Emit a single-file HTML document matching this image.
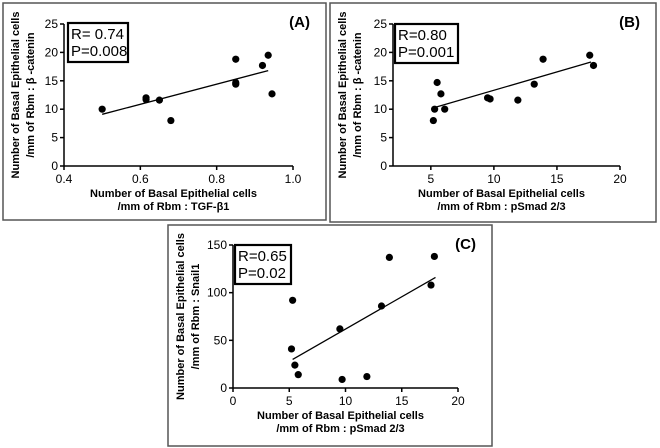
<!DOCTYPE html>
<html><head><meta charset="utf-8"><style>
body{margin:0;background:#fff;}
svg{display:block;font-family:"Liberation Sans",sans-serif;}
</style></head><body>
<svg id="s" width="660" height="448"></svg>
<script>
const aX=[0.5,0.615,0.615,0.65,0.68,0.85,0.85,0.85,0.92,0.935,0.945];
const aY=[10,12,11.7,11.6,8,18.8,14.4,14.7,17.7,19.5,12.7];
const aFit=[[0.5,9.1],[0.935,16.8]];
const bX=[5.2,5.3,5.5,5.8,6.1,9.5,9.7,11.9,13.2,13.9,17.6,17.9];
const bY=[8,10,14.7,12.7,10,12,11.8,11.6,14.4,18.8,19.5,17.7];
const bFit=[[5.3,10.3],[17.7,18.3]];
const cX=[5.2,5.3,5.5,5.8,9.5,9.7,11.9,13.2,13.9,17.6,17.9];
const cY=[41,92,24,14,62,9,12,86,137,108,138];
const cFit=[[5.3,30],[18,116]];
const aXt=[0.4,0.6,0.8,1.0], aXl=["0.4","0.6","0.8","1.0"];
const abYt=[0,5,10,15,20,25];
const bXt=[5,10,15,20];
const cXt=[0,5,10,15,20];
const cYt=[0,50,100,150];
const panels=[
 {id:'a',frame:[3,3,323,217],x0:64,x1:293,y0:166,y1:24,dx:[0.4,1.0],dy:[0,25],xt:aXt,xl:aXl,yt:abYt,X:aX,Y:aY,fit:aFit,
  box:[68,23,60,39],stats:["R= 0.74","P=0.008"],lab:"(A)",labx:310,ylab2:"/mm of Rbm : β -catenin",xlab2:"/mm of Rbm : TGF-β1"},
 {id:'b',frame:[330,3,326,219],x0:393,x1:620,y0:166,y1:24,dx:[2,20],dy:[0,25],xt:bXt,xl:bXt.map(String),yt:abYt,X:bX,Y:bY,fit:bFit,
  box:[395,24,63,39],stats:["R=0.80","P=0.001"],lab:"(B)",labx:640,ylab2:"/mm of Rbm : β -catenin",xlab2:"/mm of Rbm : pSmad 2/3"},
 {id:'c',frame:[168,225,324,221],x0:233,x1:458,y0:388,y1:245,dx:[0,20],dy:[0,150],xt:cXt,xl:cXt.map(String),yt:cYt,X:cX,Y:cY,fit:cFit,
  box:[235,245,56,39],stats:["R=0.65","P=0.02"],lab:"(C)",labx:476,ylab2:"/mm of Rbm : Snail1",xlab2:"/mm of Rbm : pSmad 2/3"}
];
const s=document.getElementById('s');
const NS='http://www.w3.org/2000/svg';
function mk(t,a,p,txt){const e=document.createElementNS(NS,t);for(const k in a)e.setAttribute(k,a[k]);if(txt!==undefined)e.textContent=txt;(p||s).appendChild(e);return e;}
panels.forEach(P=>{
 const g=mk('g',{});
 
 
 const sx=v=>P.x0+(v-P.dx[0])/(P.dx[1]-P.dx[0])*(P.x1-P.x0);
 const sy=v=>P.y0+(v-P.dy[0])/(P.dy[1]-P.dy[0])*(P.y1-P.y0);
 const f=mk('rect',{x:P.frame[0],y:P.frame[1],width:P.frame[2],height:P.frame[3],fill:'none',stroke:'#555','stroke-width':1.5},g);
 
 
 const ya=mk('line',{x1:P.x0,x2:P.x0,y1:P.y0,y2:P.y1,stroke:'#000','stroke-width':1.5},g);
 
 
 const xa=mk('line',{x1:P.x0,x2:P.x1,y1:P.y0,y2:P.y0,stroke:'#000','stroke-width':1.5},g);
 
 
 P.yt.forEach(v=>{const y=sy(v);mk('line',{x1:P.x0-4,x2:P.x0,y1:y,y2:y,stroke:'#000','stroke-width':1.5},g);
  const t=mk('text',{x:P.x0-6,y:y+4,'text-anchor':'end','font-size':12},g,String(v));
  
  });
 P.xt.forEach((v,i)=>{const x=sx(v);mk('line',{x1:x,x2:x,y1:P.y0,y2:P.y0+4,stroke:'#000','stroke-width':1.5},g);
  const t=mk('text',{x:x,y:P.y0+17,'text-anchor':'middle','font-size':12},g,P.xl[i]);
  
  });
 P.X.forEach((v,i)=>{const c=mk('circle',{cx:sx(v),cy:sy(P.Y[i]),r:3.6,fill:'#000'},g);
  
  });
 const l=mk('line',{x1:sx(P.fit[0][0]),y1:sy(P.fit[0][1]),x2:sx(P.fit[1][0]),y2:sy(P.fit[1][1]),stroke:'#000','stroke-width':1.3},g);
 
 
 const b=mk('rect',{x:P.box[0],y:P.box[1],width:P.box[2],height:P.box[3],fill:'#fff',stroke:'#000','stroke-width':2.2},g);
 
 
 P.stats.forEach((st,i)=>{const t=mk('text',{x:P.box[0]+3,y:P.box[1]+16+i*17,'font-size':15},g,st);
  
  });
 const lb=mk('text',{x:P.labx,y:P.frame[1]+24,'text-anchor':'end','font-size':15,'font-weight':'bold'},g,P.lab);
 
 
 const cy=(P.y0+P.y1)/2, bx=P.frame[0];
 const yt=mk('text',{transform:`translate(${bx+16},${cy}) rotate(-90)`,'text-anchor':'middle','font-size':11,'font-weight':'bold'},g);
 
 
 mk('tspan',{x:0,y:0},yt,'Number of Basal Epithelial cells');
 mk('tspan',{x:0,y:15},yt,P.ylab2);
 const cx=(P.x0+P.x1)/2-5;
 const xt=mk('text',{'text-anchor':'middle','font-size':11,'font-weight':'bold'},g);
 
 
 mk('tspan',{x:cx,y:P.y0+31},xt,'Number of Basal Epithelial cells');
 mk('tspan',{x:cx,y:P.y0+44},xt,P.xlab2);
});
</script>
</body></html>
